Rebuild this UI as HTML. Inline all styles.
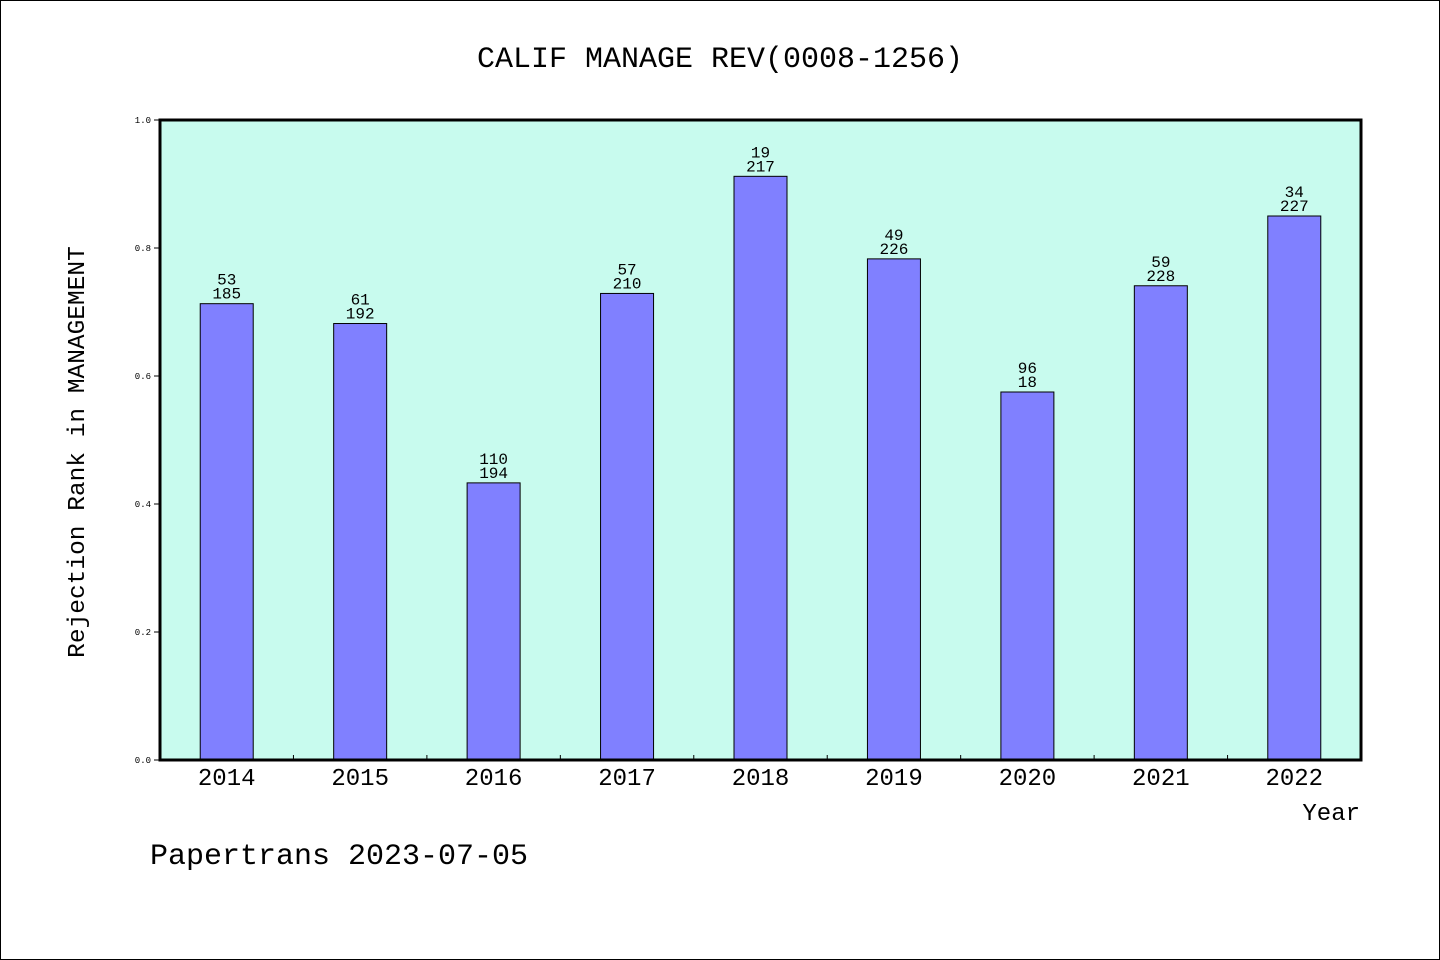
<!DOCTYPE html>
<html><head><meta charset="utf-8"><style>
html,body{margin:0;padding:0;background:#fff}
svg{display:block}
text{font-family:"Liberation Mono","DejaVu Sans Mono",monospace;fill:#000}
</style></head><body>
<svg id="chart" width="1440" height="960" viewBox="0 0 1440 960" xmlns="http://www.w3.org/2000/svg">
<rect x="0.5" y="0.5" width="1439" height="959" fill="#fff" stroke="#000"/>
<text x="720" y="67" text-anchor="middle" font-size="30">CALIF MANAGE REV(0008-1256)</text>
<rect x="160" y="120" width="1201" height="640" fill="#c8fbee"/>
<g id="bars"></g>
<rect x="160" y="120" width="1201" height="640" fill="none" stroke="#000" stroke-width="3"/>
<g id="axes"></g>
<text transform="translate(84,452) rotate(-90)" text-anchor="middle" font-size="24.5">Rejection Rank in MANAGEMENT</text>
<text x="1360" y="820" text-anchor="end" font-size="24">Year</text>
<text x="150" y="864" font-size="30">Papertrans 2023-07-05</text>
</svg>
<script>
const categories = ["2014","2015","2016","2017","2018","2019","2020","2021","2022"];
const values = [0.713,0.682,0.433,0.729,0.912,0.783,0.575,0.741,0.850];
const rankLabels = ["53","61","110","57","19","49","96","59","34"];
const totalLabels = ["185","192","194","210","217","226","18","228","227"];
const yTicks = [0,0.2,0.4,0.6,0.8,1.0];
const NS="http://www.w3.org/2000/svg";
const X0=160,X1=1361,Y0=760,Y1=120;
const slot=(X1-X0)/categories.length;
const xc=i=>X0+slot*(i+0.5);
const y=v=>Y0-(v-0)/(1-0)*(Y0-Y1);
function mk(t,a,p){const e=document.createElementNS(NS,t);for(const k in a)e.setAttribute(k,a[k]);p.appendChild(e);return e;}
const bars=document.getElementById('bars'), axes=document.getElementById('axes');
const bw=53;
categories.forEach((c,i)=>{
  const r=mk('rect',{x:xc(i)-bw/2,y:y(values[i]),width:bw,height:Y0-y(values[i]),fill:'#8080ff',stroke:'#000','stroke-width':1},bars);
  
  
  const t1=mk('text',{x:xc(i),y:y(values[i])-19,'text-anchor':'middle','font-size':16},bars);
  t1.textContent=rankLabels[i];
  
  
  const t2=mk('text',{x:xc(i),y:y(values[i])-5,'text-anchor':'middle','font-size':16},bars);
  t2.textContent=totalLabels[i];
  
  
  const xl=mk('text',{x:xc(i),y:785,'text-anchor':'middle','font-size':24},axes);
  xl.textContent=c;
  
  
  if(i>0){
    const tk=mk('line',{x1:X0+slot*i,x2:X0+slot*i,y1:Y0,y2:Y0-5,stroke:'#000'},axes);
    
    
  }
});
yTicks.forEach(v=>{
  const tk=mk('line',{x1:X0-6,x2:X0,y1:y(v),y2:y(v),stroke:'#000'},axes);
  
  
  const tl=mk('text',{x:X0-9,y:y(v)+3,'text-anchor':'end','font-size':9},axes);
  tl.textContent=v.toFixed(1);
  
  
});
</script>
</body></html>
